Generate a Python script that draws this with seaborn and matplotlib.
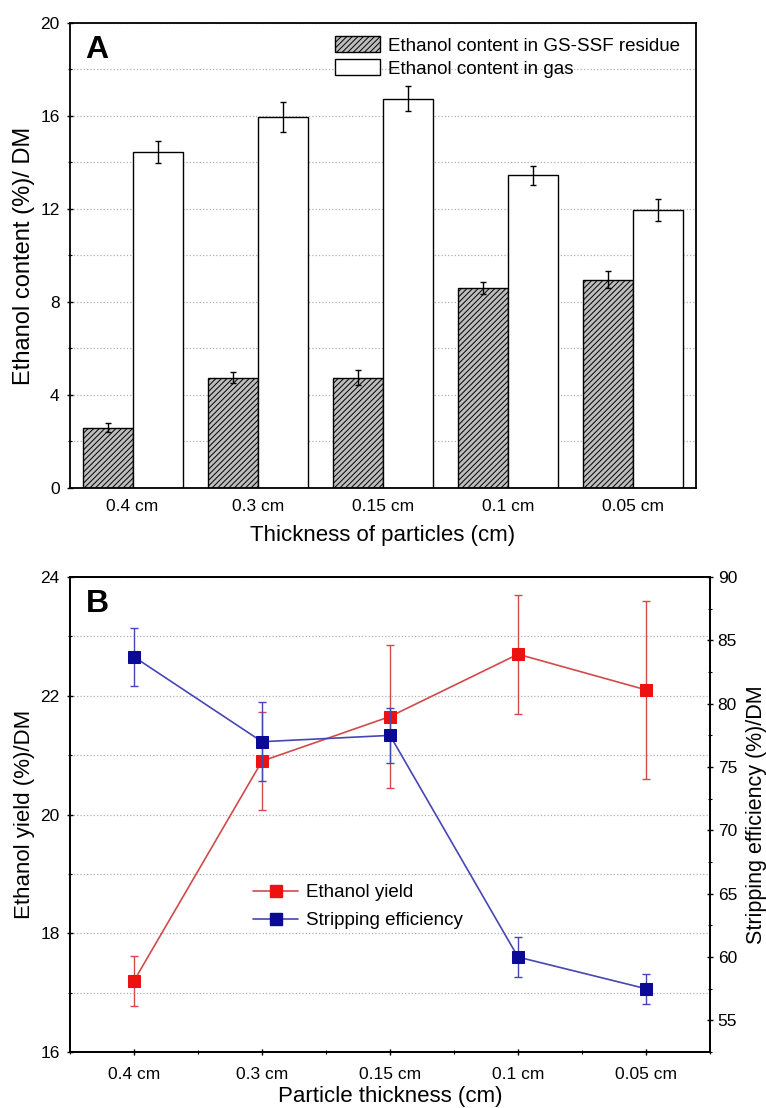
import numpy as np
import pandas as pd
import matplotlib
matplotlib.use("Agg")
import matplotlib.pyplot as plt
from matplotlib.lines import Line2D
from matplotlib.ticker import MultipleLocator
import seaborn as sns

# --- data ---
thickness = ['0.4 cm', '0.3 cm', '0.15 cm', '0.1 cm', '0.05 cm']

# panel A: ethanol content (%)/DM
residue = [2.6, 4.75, 4.75, 8.6, 8.95]
residue_err = [0.2, 0.23, 0.34, 0.27, 0.37]
gas = [14.45, 15.95, 16.75, 13.45, 11.95]
gas_err = [0.46, 0.63, 0.52, 0.41, 0.47]

# panel B: yield and stripping efficiency
yield_vals = [17.2, 20.9, 21.65, 22.7, 22.1]
yield_err = [0.42, 0.83, 1.2, 1.0, 1.5]
strip_vals = [83.7, 77.0, 77.5, 60.0, 57.5]
strip_err = [2.3, 3.1, 2.2, 1.6, 1.2]

series_names = ['Ethanol content in GS-SSF residue', 'Ethanol content in gas']

sns.set_style("white")
plt.rcParams['font.family'] = ['Liberation Sans', 'DejaVu Sans']
plt.rcParams['hatch.linewidth'] = 0.7
for key in ['text.color', 'axes.labelcolor', 'xtick.color', 'ytick.color']:
    plt.rcParams[key] = 'black'

fig = plt.figure(figsize=(7.66, 11.08), dpi=100)
axA = fig.add_axes([0.0914, 0.5596, 0.8172, 0.4197])
axB = fig.add_axes([0.0914, 0.0505, 0.8355, 0.4287])

grid_kw = dict(color='#b0b0b0', linestyle=':', linewidth=0.9)

# --- panel A ---
df = pd.DataFrame({
    'thickness': thickness * 2,
    'value': residue + gas,
    'series': [series_names[0]] * 5 + [series_names[1]] * 5,
})
sns.barplot(data=df, x='thickness', y='value', hue='series', order=thickness,
            hue_order=series_names, palette=['#bdbdbd', 'white'],
            edgecolor='black', linewidth=1.0, width=0.8, errorbar=None,
            legend=False, ax=axA)

for cont, errs in zip(axA.containers, [residue_err, gas_err]):
    xs = [b.get_x() + b.get_width() / 2 for b in cont]
    ys = [b.get_height() for b in cont]
    axA.errorbar(xs, ys, yerr=errs, fmt='none', ecolor='black',
                 elinewidth=1.0, capsize=2.5, capthick=1.0, zorder=5)
for b in axA.containers[0]:
    b.set_hatch('//////')

axA.set_ylim(0, 20)
axA.set_xlim(-0.5, 4.5)
axA.yaxis.set_major_locator(MultipleLocator(4))
axA.yaxis.set_minor_locator(MultipleLocator(2))
axA.grid(True, which='both', axis='y', **grid_kw)
axA.set_axisbelow(True)
axA.tick_params(axis='y', which='major', direction='inout', length=5, width=1, labelsize=12.5, pad=5, left=True)
axA.tick_params(axis='y', which='minor', direction='inout', length=3, width=0.8, left=True)
axA.tick_params(axis='x', which='major', length=0, labelsize=12.5, pad=8)
axA.set_xlabel('Thickness of particles (cm)', fontsize=16, labelpad=8)
axA.set_ylabel('Ethanol content (%)/ DM', fontsize=17, labelpad=4)
for sp in axA.spines.values():
    sp.set_linewidth(1.3)
    sp.set_color('black')

handles = [axA.containers[0].patches[0], axA.containers[1].patches[0]]
axA.legend(handles, series_names, loc='upper right', bbox_to_anchor=(0.995, 1.0),
           frameon=False, fontsize=13.5, handlelength=2.4, handleheight=0.95,
           handletextpad=0.4, labelspacing=0.25, borderaxespad=0.3)
axA.text(0.025, 0.975, 'A', transform=axA.transAxes, fontsize=23,
         fontweight='bold', ha='left', va='top')

# --- panel B ---
pos = np.arange(len(thickness))
red_line, red_mark = '#d24a4a', '#ee1111'
blue_line, blue_mark = '#4646b4', '#0a0a96'

axB2 = axB.twinx()
sns.lineplot(x=pos, y=yield_vals, ax=axB, color=red_line, linewidth=1.2,
             marker='s', markersize=8, markerfacecolor=red_mark,
             markeredgecolor=red_mark, zorder=4)
axB.errorbar(pos, yield_vals, yerr=yield_err, fmt='none', ecolor=red_line,
             elinewidth=1.0, capsize=3, capthick=1.0, zorder=3)
sns.lineplot(x=pos, y=strip_vals, ax=axB2, color=blue_line, linewidth=1.2,
             marker='s', markersize=8, markerfacecolor=blue_mark,
             markeredgecolor=blue_mark, zorder=4)
axB2.errorbar(pos, strip_vals, yerr=strip_err, fmt='none', ecolor=blue_line,
              elinewidth=1.0, capsize=3, capthick=1.0, zorder=3)

axB.set_xlim(-0.5, 4.5)
axB.set_ylim(16, 24)
axB2.set_ylim(52.5, 90)
axB.set_xticks(pos)
axB.set_xticklabels(thickness)
axB.xaxis.set_minor_locator(MultipleLocator(0.5))
axB.yaxis.set_major_locator(MultipleLocator(2))
axB.yaxis.set_minor_locator(MultipleLocator(1))
axB2.yaxis.set_major_locator(MultipleLocator(5))
axB2.yaxis.set_minor_locator(MultipleLocator(2.5))
axB.grid(True, which='both', axis='y', **grid_kw)
axB.set_axisbelow(True)
axB.tick_params(axis='y', which='major', direction='inout', length=5, width=1, labelsize=12.5, pad=5, left=True)
axB.tick_params(axis='y', which='minor', direction='inout', length=3, width=0.8, left=True)
axB.tick_params(axis='x', which='major', direction='inout', length=5, width=1, labelsize=12.5, pad=8, bottom=True)
axB.tick_params(axis='x', which='minor', direction='inout', length=3, width=0.8, bottom=True)
axB2.tick_params(axis='y', which='major', direction='inout', length=5, width=1, labelsize=12.5, pad=3, right=True)
axB2.tick_params(axis='y', which='minor', direction='inout', length=3, width=0.8, right=True)
axB.set_xlabel('Particle thickness (cm)', fontsize=16, labelpad=3)
axB.set_ylabel('Ethanol yield (%)/DM', fontsize=16, labelpad=4)
axB2.set_ylabel('Stripping efficiency (%)/DM', fontsize=15.5, va='center')
axB2.yaxis.set_label_coords(1.072, 0.5)
for a in (axB, axB2):
    for sp in a.spines.values():
        sp.set_linewidth(1.3)
        sp.set_color('black')

leg_handles = [
    Line2D([], [], color=red_line, linewidth=1.2, marker='s', markersize=8,
           markerfacecolor=red_mark, markeredgecolor=red_mark),
    Line2D([], [], color=blue_line, linewidth=1.2, marker='s', markersize=8,
           markerfacecolor=blue_mark, markeredgecolor=blue_mark),
]
axB2.legend(leg_handles, ['Ethanol yield', 'Stripping efficiency'],
            loc='center left', bbox_to_anchor=(0.26, 0.306), frameon=False,
            fontsize=13.5, handlelength=2.4, handletextpad=0.4, labelspacing=0.6)
axB.text(0.025, 0.975, 'B', transform=axB.transAxes, fontsize=23,
         fontweight='bold', ha='left', va='top')

fig.savefig('out.png', dpi=100)
